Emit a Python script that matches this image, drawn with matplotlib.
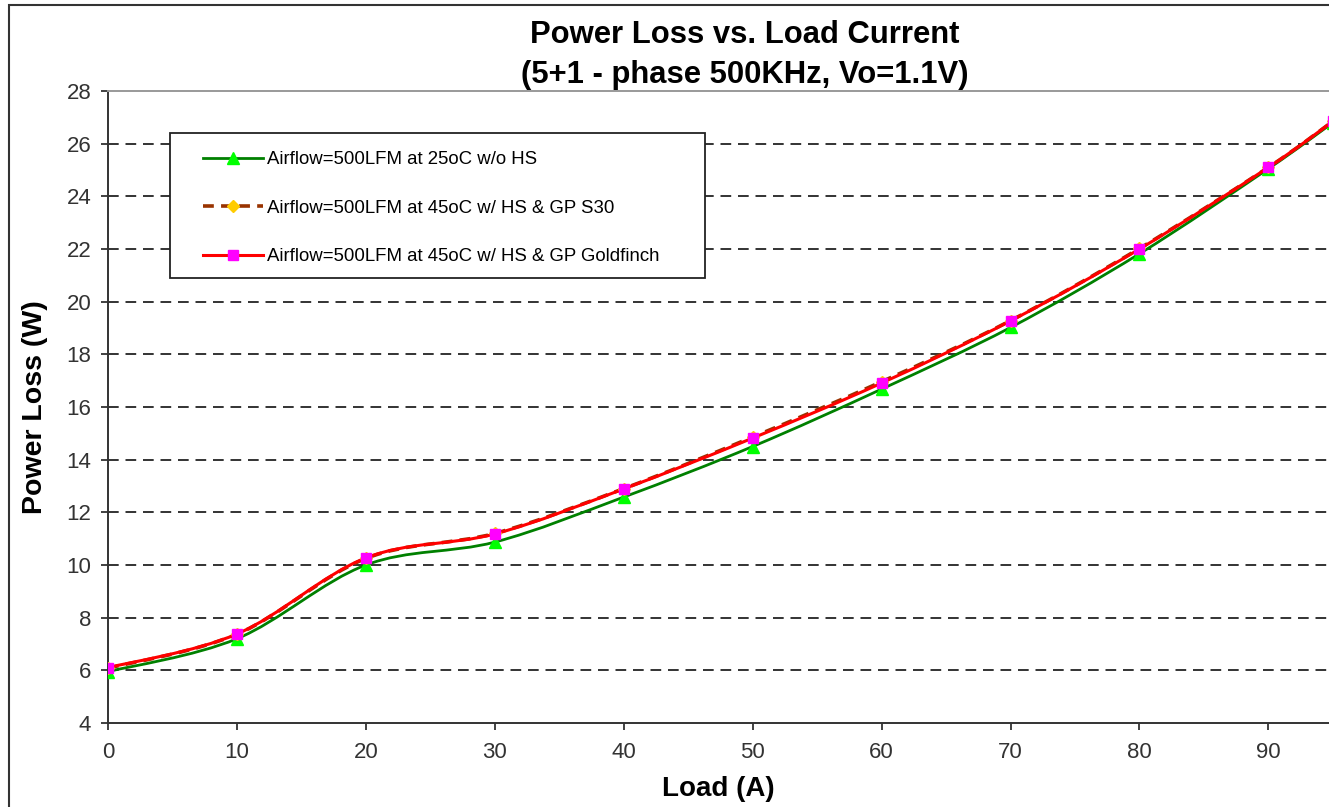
# Power loss vs load current chart (Excel style with smoothed lines)
import numpy as np
import matplotlib
matplotlib.use('Agg')
import matplotlib.pyplot as plt
from matplotlib.path import Path
from matplotlib.patches import PathPatch, Rectangle
from matplotlib.lines import Line2D

plt.rcParams['font.family'] = ['Liberation Sans', 'DejaVu Sans']

# Data
load = [0, 10, 20, 30, 40, 50, 60, 70, 80, 90, 95]
loss_25c_no_hs = [5.95, 7.2, 10.0, 10.87, 12.58, 14.5, 16.68, 19.02, 21.82, 25.05, 26.8]
loss_45c_s30 = [6.08, 7.37, 10.25, 11.2, 12.9, 14.86, 16.96, 19.28, 22.02, 25.1, 26.85]
loss_45c_goldfinch = [6.1, 7.38, 10.27, 11.18, 12.89, 14.82, 16.91, 19.27, 22.0, 25.1, 26.85]
labels = ['Airflow=500LFM at 25oC w/o HS',
          'Airflow=500LFM at 45oC w/ HS & GP S30',
          'Airflow=500LFM at 45oC w/ HS & GP Goldfinch']
y_ticks = [4, 6, 8, 10, 12, 14, 16, 18, 20, 22, 24, 26, 28]
x_ticks = [0, 10, 20, 30, 40, 50, 60, 70, 80, 90]

W, H = 1329, 807


def smooth_path(x, y):
    # bezier through the points, like Excel's "smoothed line"
    pts = np.column_stack([np.asarray(x, float), np.asarray(y, float)])
    verts = [pts[0]]
    codes = [Path.MOVETO]
    n = len(pts)
    for i in range(n - 1):
        p0 = pts[i - 1] if i > 0 else pts[i]
        p1 = pts[i]
        p2 = pts[i + 1]
        p3 = pts[i + 2] if i + 2 < n else pts[i + 1]
        verts += [p1 + (p2 - p0) / 6.0, p2 - (p3 - p1) / 6.0, p2]
        codes += [Path.CURVE4] * 3
    return Path(verts, codes)


fig = plt.figure(figsize=(W / 100, H / 100), dpi=100)
ax = fig.add_axes([108 / W, 1 - 723 / H, 1 - 108 / W, (723 - 91) / H])

series = [
    (loss_25c_no_hs, '#008000', '-', 2.0, '^', '#00ff00', 8),
    (loss_45c_s30, '#993300', (0, (3, 2)), 2.6, 'D', '#ffcc00', 6),
    (loss_45c_goldfinch, '#ff0000', '-', 2.2, 's', '#ff00ff', 7.5),
]
handles = []
for vals, col, ls, lw, mk, mcol, ms in series:
    patch = PathPatch(smooth_path(load, vals), fill=False, edgecolor=col,
                      linestyle=ls, linewidth=lw, zorder=3)
    ax.add_patch(patch)
    ax.plot(load, vals, linestyle='none', marker=mk, markersize=ms,
            markerfacecolor=mcol, markeredgecolor=mcol, zorder=4)
    handles.append(Line2D([], [], color=col, linestyle=ls, linewidth=lw,
                          marker=mk, markersize=ms, markerfacecolor=mcol,
                          markeredgecolor=mcol))

ax.set_xlim(0, 94.7)
ax.set_ylim(4, 28)
ax.set_yticks(y_ticks)
ax.set_xticks(x_ticks)
ax.tick_params(axis='both', labelsize=16, colors='#333333', width=1.3)
ax.tick_params(axis='y', direction='out', length=5, pad=7)
ax.tick_params(axis='x', direction='out', length=5, pad=9)

# dashed horizontal gridlines
for yv in y_ticks[1:-1]:
    ax.axhline(yv, color='#333333', linestyle=(0, (5.5, 3.5)), linewidth=1.4, zorder=1)

for side in ['left', 'bottom']:
    ax.spines[side].set_color('#333333')
    ax.spines[side].set_linewidth(1.4)
ax.spines['top'].set_color('#999999')
ax.spines['top'].set_linewidth(1.4)
ax.spines['right'].set_visible(False)

ax.set_xlabel('Load (A)', fontsize=20, fontweight='bold', labelpad=9)
ax.set_ylabel('Power Loss (W)', fontsize=20.5, fontweight='bold', labelpad=13)

fig.text(745 / W, 1 - 35 / H, 'Power Loss vs. Load Current',
         ha='center', va='center', fontsize=22.3, fontweight='bold')
fig.text(745 / W, 1 - 75 / H, '(5+1 - phase 500KHz, Vo=1.1V)',
         ha='center', va='center', fontsize=22.3, fontweight='bold')

# legend box drawn separately, entries placed inside it
ax.add_patch(Rectangle((170 / W, 1 - 278 / H), 535 / W, 145 / H,
                       transform=fig.transFigure, facecolor='white',
                       edgecolor='#222222', linewidth=1.3, zorder=5,
                       clip_on=False))
leg = ax.legend(handles, labels, loc='upper left',
                bbox_to_anchor=(203 / W, 1 - 151 / H),
                bbox_transform=fig.transFigure, borderaxespad=0, borderpad=0,
                fontsize=13.4, handlelength=3.2, handletextpad=0.25,
                labelspacing=1.7, frameon=False)
leg.set_zorder(6)

# outer chart frame
fig.patches.append(Rectangle((9 / W, -0.5), 2, 0.5 + 1 - 5 / H,
                             transform=fig.transFigure, fill=False,
                             edgecolor='#333333', linewidth=1.5))

fig.savefig('out.png', dpi=100)
